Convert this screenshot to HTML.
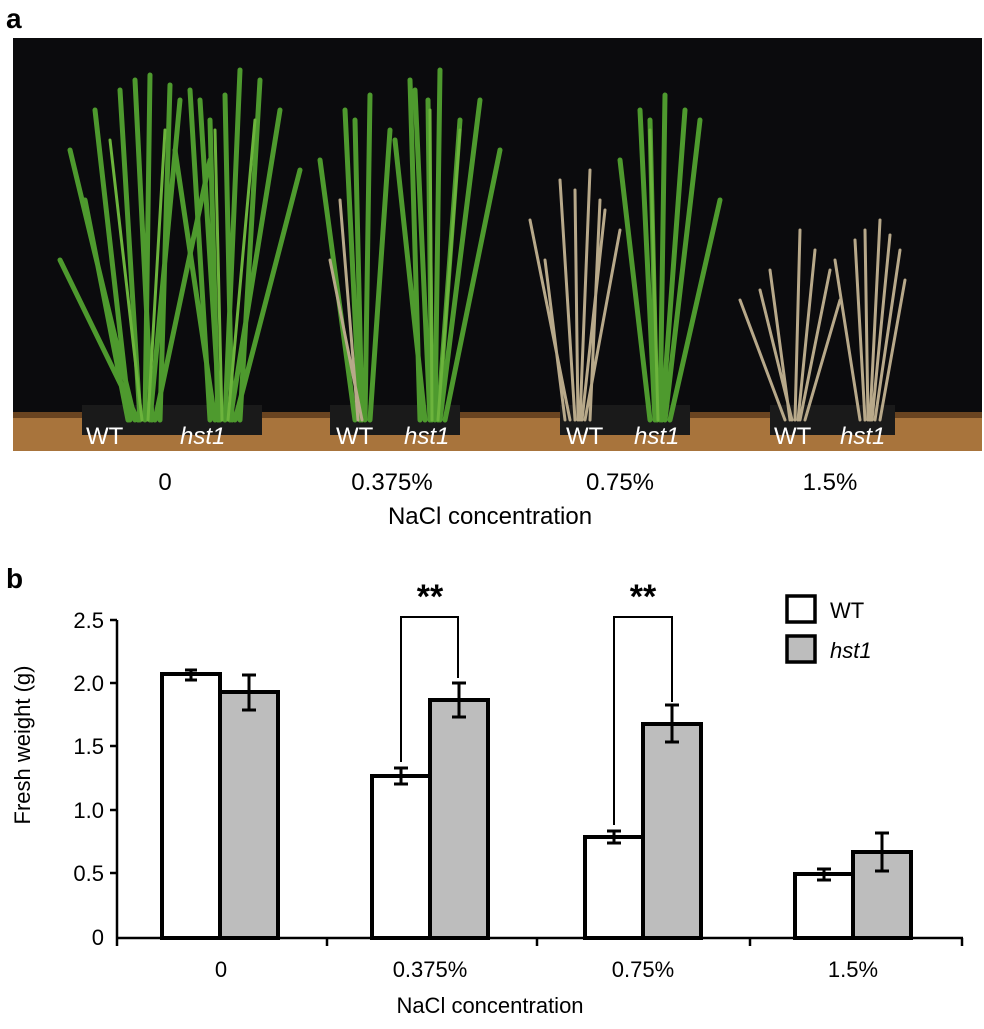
<!DOCTYPE html>
<html><head><meta charset="utf-8"><style>
body{margin:0;background:#fff;width:984px;height:1024px;overflow:hidden;font-family:"Liberation Sans",sans-serif}
</style></head><body>
<svg width="984" height="1024" viewBox="0 0 984 1024" font-family="Liberation Sans, sans-serif">
<text x="6" y="28" font-size="28" font-weight="bold">a</text>
<rect x="13" y="38" width="969" height="413" fill="#0b0b0d"/>
<rect x="13" y="412" width="969" height="39" fill="#a8743c"/>
<rect x="13" y="412" width="969" height="6" fill="#6a4420"/>
<g fill="#1a1a1a"><rect x="82" y="405" width="180" height="30"/><rect x="330" y="405" width="130" height="30"/><rect x="560" y="405" width="130" height="30"/><rect x="770" y="405" width="125" height="30"/></g>
<g stroke-linecap="round" fill="none">
<g stroke="#4e9a2e" stroke-width="5">
<path d="M140 420 L120 90 M145 420 L150 75 M150 420 L180 100 M135 420 L70 150 M155 420 L210 160 M130 420 L95 110 M160 420 L170 85 M138 420 L60 260 M128 420 L85 200 M152 420 L135 80"/>
<path d="M220 420 L200 100 M225 420 L240 70 M230 420 L280 110 M215 420 L175 150 M235 420 L300 170 M210 420 L190 90 M240 420 L260 80 M232 420 L225 95 M218 420 L210 120"/>
<path d="M360 420 L345 110 M365 420 L370 95 M370 420 L390 130 M355 420 L320 160 M362 420 L355 120"/>
<path d="M430 420 L415 90 M435 420 L440 70 M440 420 L480 100 M425 420 L395 140 M445 420 L500 150 M420 420 L410 80 M432 420 L428 100 M438 420 L460 120"/>
<path d="M655 420 L640 110 M660 420 L665 95 M665 420 L700 120 M650 420 L620 160 M670 420 L720 200 M657 420 L650 120 M662 420 L685 110"/>
</g>
<g stroke="#6cb43c" stroke-width="3">
<path d="M142 420 L110 140 M148 420 L165 130 M222 420 L215 130 M228 420 L255 120 M432 420 L430 110 M438 420 L460 130 M658 420 L650 130"/>
</g>
<g stroke="#b8a98a" stroke-width="3">
<path d="M358 420 L340 200 M362 420 L330 260 M575 420 L560 180 M580 420 L590 170 M585 420 L620 230 M570 420 L530 220 M590 420 L600 200 M565 420 L545 260 M578 420 L575 190 M582 420 L605 210"/>
<path d="M790 420 L770 270 M795 420 L800 230 M800 420 L830 270 M785 420 L740 300 M805 420 L840 300 M792 420 L760 290 M798 420 L815 250"/>
<path d="M865 420 L855 240 M870 420 L880 220 M875 420 L900 250 M860 420 L835 260 M880 420 L905 280 M868 420 L865 230 M872 420 L890 235"/>
</g>
</g>
<g fill="#fff" font-size="24">
<text x="86" y="444">WT</text><text x="180" y="444" font-style="italic">hst1</text>
<text x="336" y="444">WT</text><text x="404" y="444" font-style="italic">hst1</text>
<text x="566" y="444">WT</text><text x="634" y="444" font-style="italic">hst1</text>
<text x="774" y="444">WT</text><text x="840" y="444" font-style="italic">hst1</text>
</g>
<g font-size="24" text-anchor="middle">
<text x="165" y="490">0</text><text x="392" y="490">0.375%</text><text x="620" y="490">0.75%</text><text x="830" y="490">1.5%</text>
<text x="490" y="524">NaCl concentration</text>
</g>
<text x="6" y="588" font-size="28" font-weight="bold">b</text>
<g stroke="#000" stroke-width="2.5">
<line x1="117" y1="620" x2="117" y2="938"/>
<line x1="116" y1="938" x2="963" y2="938"/>
<line x1="110" y1="620" x2="117" y2="620"/><line x1="110" y1="683" x2="117" y2="683"/><line x1="110" y1="746" x2="117" y2="746"/><line x1="110" y1="810" x2="117" y2="810"/><line x1="110" y1="873" x2="117" y2="873"/>
<line x1="117" y1="938" x2="117" y2="946"/><line x1="327" y1="938" x2="327" y2="946"/><line x1="537" y1="938" x2="537" y2="946"/><line x1="750" y1="938" x2="750" y2="946"/><line x1="962" y1="938" x2="962" y2="946"/>
</g>
<g font-size="22" text-anchor="end">
<text x="104" y="628">2.5</text><text x="104" y="691">2.0</text><text x="104" y="754">1.5</text><text x="104" y="818">1.0</text><text x="104" y="881">0.5</text><text x="104" y="945">0</text>
</g>
<text transform="translate(30,745) rotate(-90)" font-size="22" text-anchor="middle">Fresh weight (g)</text>
<g stroke="#000" stroke-width="4">
<rect x="162" y="674" width="58" height="264" fill="#fff"/>
<rect x="220" y="692" width="58" height="246" fill="#bdbdbd"/>
<rect x="372" y="776" width="58" height="162" fill="#fff"/>
<rect x="430" y="700" width="58" height="238" fill="#bdbdbd"/>
<rect x="585" y="837" width="58" height="101" fill="#fff"/>
<rect x="643" y="724" width="58" height="214" fill="#bdbdbd"/>
<rect x="795" y="874" width="58" height="64" fill="#fff"/>
<rect x="853" y="852" width="58" height="86" fill="#bdbdbd"/>
</g>
<g stroke="#000" stroke-width="3">
<path d="M191 670 V680 M185 670 H197 M185 680 H197"/>
<path d="M249 675 V710 M242 675 H256 M242 710 H256"/>
<path d="M401 768 V784 M394 768 H408 M394 784 H408"/>
<path d="M459 683 V717 M452 683 H466 M452 717 H466"/>
<path d="M614 831 V843 M607 831 H621 M607 843 H621"/>
<path d="M672 705 V742 M665 705 H679 M665 742 H679"/>
<path d="M824 869 V880 M817 869 H831 M817 880 H831"/>
<path d="M882 833 V871 M875 833 H889 M875 871 H889"/>
</g>
<g stroke="#000" stroke-width="2" fill="none">
<path d="M401 762 V617 H458 V678"/>
<path d="M614 825 V617 H672 V702"/>
</g>
<g font-size="34" font-weight="bold" text-anchor="middle"><text x="430" y="608">**</text><text x="643" y="608">**</text></g>
<rect x="787" y="596" width="28" height="26" fill="#fff" stroke="#000" stroke-width="3.5"/>
<rect x="787" y="636" width="28" height="26" fill="#bdbdbd" stroke="#000" stroke-width="3.5"/>
<text x="830" y="618" font-size="22">WT</text>
<text x="830" y="658" font-size="22" font-style="italic">hst1</text>
<g font-size="22" text-anchor="middle">
<text x="221" y="977">0</text><text x="430" y="977">0.375%</text><text x="643" y="977">0.75%</text><text x="853" y="977">1.5%</text>
<text x="490" y="1013">NaCl concentration</text>
</g>
</svg>
</body></html>
